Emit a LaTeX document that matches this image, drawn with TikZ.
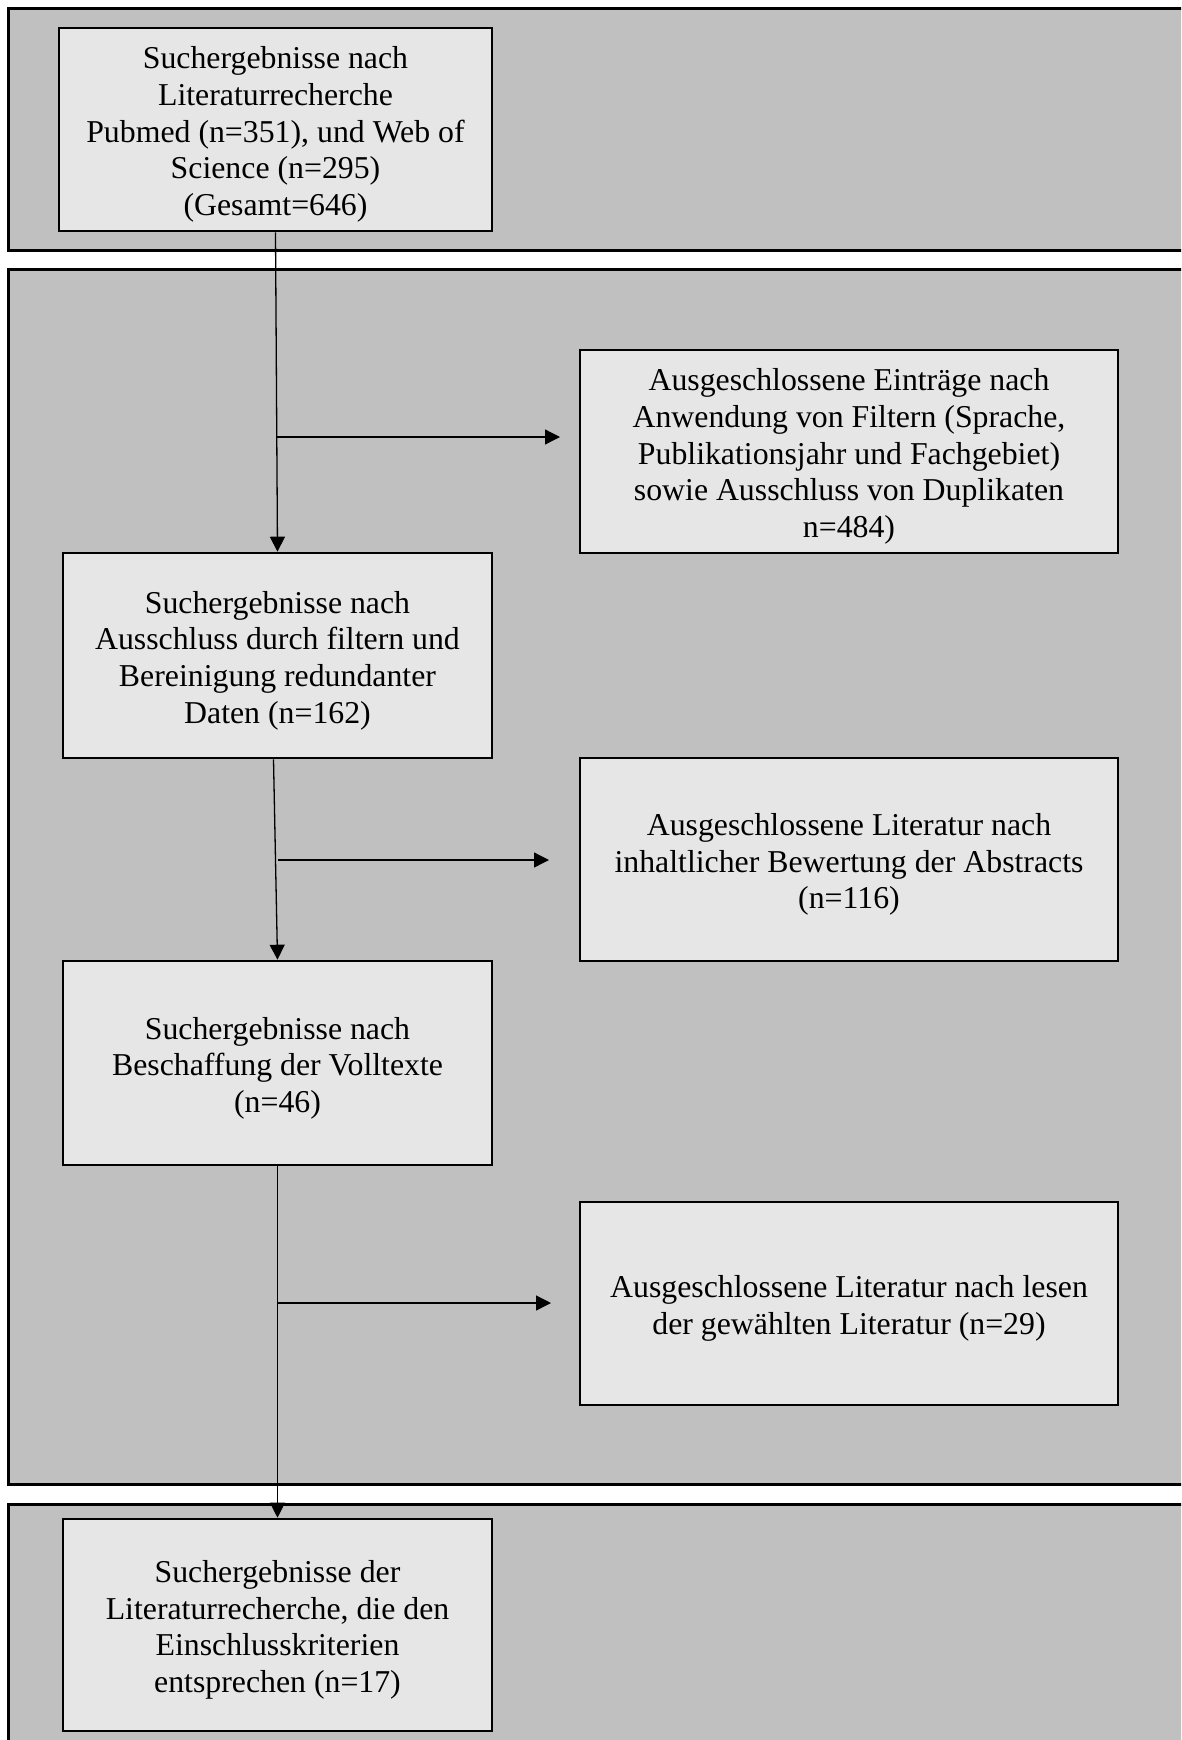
\documentclass[tikz,border=0pt]{standalone}
\usepackage{fontspec}
\setmainfont{Liberation Serif}
\usetikzlibrary{arrows.meta}
\definecolor{bandgray}{RGB}{192,192,192}
\definecolor{boxgray}{RGB}{230,230,230}
\begin{document}
\begin{tikzpicture}[x=1pt,y=-1pt,
  band/.style={draw=black,line width=3pt,fill=bandgray},
  stagebox/.style={draw=black,line width=2.6pt,fill=boxgray,inner sep=0pt},
  boxtext/.style={align=center,inner sep=0pt,font=\fontsize{31.8}{36.6}\selectfont},
  leftbox/.style={stagebox,minimum width=429pt},
  rightbox/.style={stagebox,minimum width=538pt,minimum height=203pt},
  conn/.style={line width=1.3pt,-{Triangle[length=15pt,width=15pt]}}]
\useasboundingbox (0,0) rectangle (1181,1740);
\clip (0,0) rectangle (1181,1740);
\fill[white] (0,0) rectangle (1181,1740);
% bands
\draw[band] (8,8) rectangle (1220,250);
\draw[band] (8,269) rectangle (1220,1484);
\draw[band] (8,1504) rectangle (1220,1780);
% boxes
\node[stagebox,minimum width=433pt,minimum height=203pt] (b1) at (275.5,129.5) {};
\node[rightbox] (r1) at (849,451.5) {};
\node[leftbox,minimum height=205pt] (b2) at (277.5,655.5) {};
\node[rightbox] (r2) at (849,859.5) {};
\node[leftbox,minimum height=204pt] (b3) at (277.5,1063) {};
\node[rightbox] (r3) at (849,1303.5) {};
\node[leftbox,minimum height=212pt] (b4) at (277.5,1625) {};
% texts
\node[boxtext] (b1t) at ([yshift=-5pt]b1.center)
  {Suchergebnisse nach\\Literaturrecherche\\Pubmed (n=351), und Web of\\Science (n=295)\\(Gesamt=646)};
\node[boxtext] (r1t) at ([yshift=-5pt]r1.center)
  {Ausgeschlossene Einträge nach\\Anwendung von Filtern (Sprache,\\Publikationsjahr und Fachgebiet)\\sowie Ausschluss von Duplikaten\\n=484)};
\node[boxtext] (b2t) at ([yshift=-5pt]b2.center)
  {Suchergebnisse nach\\Ausschluss durch filtern und\\Bereinigung redundanter\\Daten (n=162)};
\node[boxtext] (r2t) at ([yshift=-5pt]r2.center)
  {Ausgeschlossene Literatur nach\\inhaltlicher Bewertung der Abstracts\\(n=116)};
\node[boxtext] (b3t) at ([yshift=-5pt]b3.center)
  {Suchergebnisse nach\\Beschaffung der Volltexte\\(n=46)};
\node[boxtext] (r3t) at ([yshift=-5pt]r3.center)
  {Ausgeschlossene Literatur nach lesen\\der gewählten Literatur (n=29)};
\node[boxtext] (b4t) at ([yshift=-5pt]b4.center)
  {Suchergebnisse der\\Literaturrecherche, die den\\Einschlusskriterien\\entsprechen (n=17)};
% connectors
\draw[conn] (b1.south) -- (b2.north);
\draw[conn] ([xshift=-4pt]b2.south) -- (b3.north);
\draw[conn] (b3.south) -- (b4.north);
\coordinate (j1) at (277,437);
\coordinate (t1) at (560,437);
\coordinate (j2) at (278,860);
\coordinate (t2) at (549,860);
\coordinate (j3) at (278,1303);
\coordinate (t3) at (551,1303);
\draw[conn] (j1) -- (t1);
\draw[conn] (j2) -- (t2);
\draw[conn] (j3) -- (t3);
\end{tikzpicture}
\end{document}
